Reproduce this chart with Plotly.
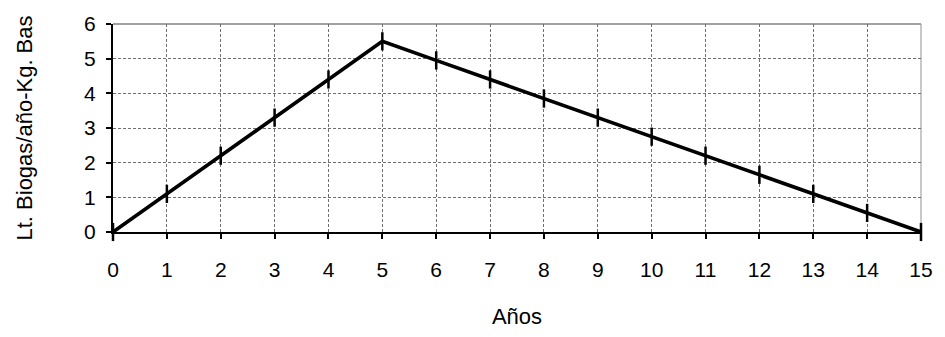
import plotly.graph_objects as go

years = list(range(0, 16))
biogas = [0, 1.1, 2.2, 3.3, 4.4, 5.5, 4.95, 4.4, 3.85, 3.3, 2.75, 2.2, 1.65, 1.1, 0.55, 0]
x_title = "Años"
y_title = "Lt. Biogas/año-Kg. Bas"

fig = go.Figure()
fig.add_trace(go.Scatter(
    x=years, y=biogas, mode="lines+markers",
    line=dict(color="black", width=3.6),
    marker=dict(symbol="line-ns", size=13, color="black", line=dict(color="black", width=2.5)),
    cliponaxis=False, showlegend=False,
))

grid_col = "#707070"
fig.update_layout(
    width=945, height=337,
    margin=dict(l=113, r=18, t=19, b=105),
    paper_bgcolor="white", plot_bgcolor="white",
    font=dict(family="Liberation Sans, Arial", size=21, color="black"),
    xaxis=dict(
        range=[0, 15], tickmode="linear", dtick=1,
        showgrid=True, gridcolor=grid_col, griddash="3px,2px", gridwidth=1,
        showline=True, linecolor="black", linewidth=2,
        ticks="outside", ticklen=5, tickcolor="black", tickwidth=1.5,
        ticklabelstandoff=13,
        zeroline=False,
        title=dict(text=x_title, font=dict(size=22), standoff=28),
    ),
    yaxis=dict(
        range=[0, 6], tickmode="linear", dtick=1,
        showgrid=True, gridcolor=grid_col, griddash="3px,2px", gridwidth=1,
        showline=True, linecolor="black", linewidth=2,
        ticks="outside", ticklen=5, tickcolor="black", tickwidth=1.5,
        ticklabelstandoff=6,
        zeroline=False,
        title=dict(text=y_title, font=dict(size=22), standoff=45),
    ),
    shapes=[
        dict(type="line", xref="paper", yref="paper", x0=0, x1=1, y0=1, y1=1,
             line=dict(color="#a0a0a0", width=2), layer="below"),
        dict(type="line", xref="paper", yref="paper", x0=1, x1=1, y0=0, y1=1,
             line=dict(color="#909090", width=1), layer="below"),
    ],
)

fig.write_html("out.html", config={"displayModeBar": False},
               post_script="document.body.style.margin='0';")
